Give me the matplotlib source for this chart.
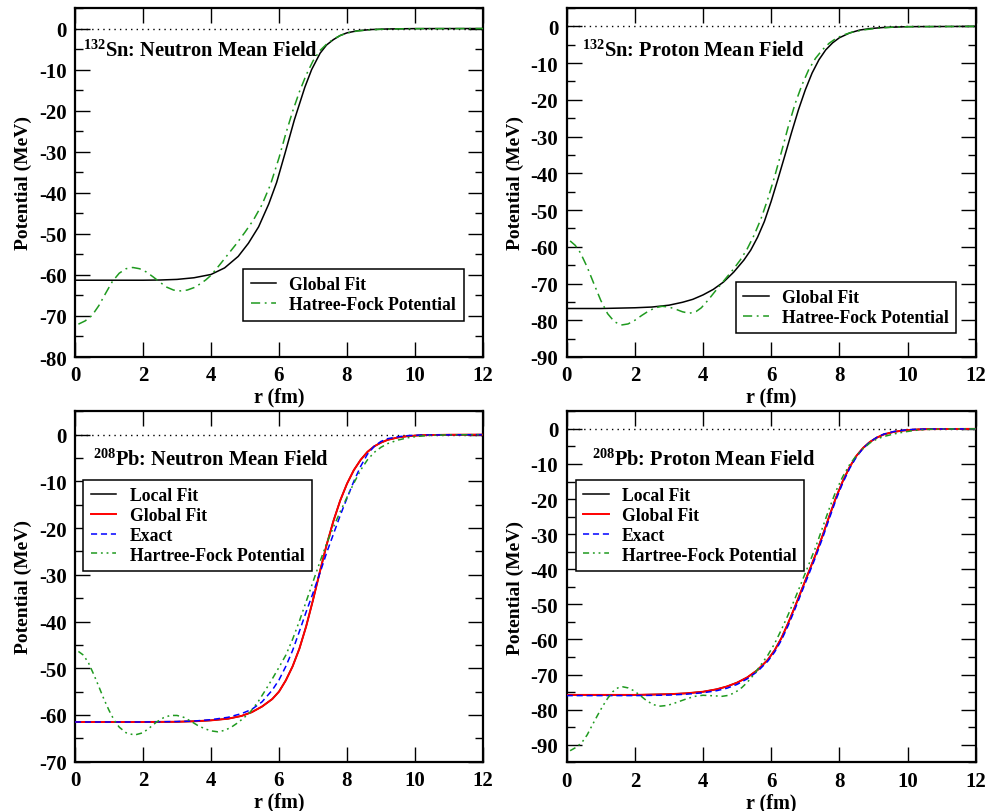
import matplotlib
matplotlib.use('Agg')
import matplotlib.pyplot as plt
from matplotlib.ticker import MultipleLocator

plt.rcParams.update({
    'font.family': 'Liberation Serif',
    'font.weight': 'bold',
    'axes.unicode_minus': False,
    'mathtext.fontset': 'custom',
    'mathtext.rm': 'Liberation Serif',
    'mathtext.it': 'Liberation Serif:italic',
    'mathtext.bf': 'Liberation Serif:bold',
})

# ---------------- data ----------------
# Panel 1: 132Sn neutron
sn_n_fit_r = [0, 1, 2, 2.5, 3, 3.5, 4.0, 4.4, 4.8, 5.1, 5.4, 5.7, 5.93, 6.18, 6.45, 6.76,
              6.96, 7.21, 7.4, 7.6, 7.8, 8.0, 8.3, 8.7, 9.2, 10, 12]
sn_n_fit_v = [-61.3, -61.3, -61.3, -61.25, -61.1, -60.7, -59.9, -58.3, -55.5, -52.3, -48.3,
              -42.7, -37.5, -30.3, -22.3, -14.3, -10.0, -6.0, -4.0, -2.7, -1.7, -1.05, -0.55,
              -0.25, -0.1, -0.02, 0]
sn_n_hf_r = [0.1, 0.3, 0.5, 0.7, 0.9, 1.1, 1.3, 1.5, 1.7, 1.9, 2.1, 2.3, 2.5, 2.7, 2.9, 3.1,
             3.3, 3.5, 3.7, 3.85, 4.0, 4.25, 4.5, 4.75, 5.0, 5.25, 5.5, 5.75, 6.0, 6.2, 6.4,
             6.6, 6.8, 7.0, 7.2, 7.4, 7.6, 7.8, 8.0, 8.3, 8.7, 9.2, 10, 12]
sn_n_hf_v = [-72.0, -71.2, -69.9, -67.5, -64.5, -61.6, -59.6, -58.5, -58.2, -58.5, -59.3,
             -60.5, -61.8, -63.0, -63.7, -63.9, -63.7, -63.1, -62.1, -61.2, -60.1, -57.6,
             -55.0, -52.4, -49.6, -46.6, -42.9, -38.0, -31.5, -25.6, -20.2, -15.4, -11.3,
             -7.9, -5.4, -3.8, -2.6, -1.7, -1.1, -0.6, -0.3, -0.12, -0.03, 0]

# Panel 2: 132Sn proton
sn_p_fit_r = [0, 1, 2, 2.5, 3, 3.4, 3.7, 4.0, 4.3, 4.6, 4.9, 5.2, 5.4, 5.6, 5.8, 6.0, 6.2,
              6.4, 6.6, 6.8, 7.0, 7.2, 7.4, 7.6, 7.8, 8.0, 8.3, 8.6, 8.9, 9.3, 10, 12]
sn_p_fit_v = [-76.8, -76.8, -76.6, -76.4, -75.9, -75.1, -74.3, -73.1, -71.6, -69.6, -66.9,
              -63.6, -60.9, -57.4, -53.1, -47.6, -41.5, -35.2, -28.8, -22.7, -17.3, -12.7,
              -9.1, -6.4, -4.5, -3.1, -1.8, -1.0, -0.6, -0.3, -0.08, 0]
sn_p_hf_r = [0.1, 0.25, 0.4, 0.6, 0.8, 1.0, 1.2, 1.4, 1.6, 1.8, 2.0, 2.2, 2.4, 2.6, 2.8,
             3.0, 3.2, 3.4, 3.6, 3.8, 3.95, 4.15, 4.4, 4.65, 4.9, 5.1, 5.3, 5.5, 5.7, 5.9,
             6.1, 6.3, 6.5, 6.7, 6.9, 7.1, 7.3, 7.5, 7.7, 7.9, 8.1, 8.4, 8.8, 9.2, 9.6, 10,
             12]
sn_p_hf_v = [-58.4, -59.6, -61.6, -65.5, -70.1, -74.6, -78.2, -80.4, -81.3, -81.0, -80.0,
             -78.7, -77.5, -76.6, -76.2, -76.4, -77.0, -77.7, -78.1, -77.6, -76.6, -74.5,
             -71.6, -68.8, -66.0, -63.5, -60.5, -56.8, -52.4, -47.0, -40.9, -34.2, -27.3,
             -21.1, -16.0, -11.8, -8.7, -6.4, -4.6, -3.3, -2.4, -1.5, -0.85, -0.45, -0.2,
             -0.1, 0]

# Panel 3: 208Pb neutron
pb_n_loc_r = [0, 1, 2, 3, 3.5, 4.0, 4.5, 4.9, 5.2, 5.5, 5.8, 6.0, 6.2, 6.4, 6.6, 6.8, 7.0,
              7.2, 7.4, 7.6, 7.8, 8.0, 8.2, 8.4, 8.6, 8.8, 9.0, 9.2, 9.5, 9.8, 10.2, 11, 12]
pb_n_loc_v = [-61.5, -61.5, -61.5, -61.45, -61.35, -61.15, -60.8, -60.2, -59.4, -58.2,
              -56.6, -55.0, -52.6, -49.6, -45.8, -41.0, -35.4, -29.4, -23.6, -18.5, -14.1,
              -10.5, -7.6, -5.4, -3.7, -2.5, -1.7, -1.1, -0.6, -0.3, -0.12, -0.02, 0]
pb_n_glob_r = [0, 1, 2, 3, 3.5, 4.0, 4.5, 4.9, 5.2, 5.5, 5.8, 6.0, 6.2, 6.4, 6.6, 6.8, 7.0,
               7.2, 7.4, 7.6, 7.8, 8.0, 8.2, 8.4, 8.6, 8.8, 9.0, 9.2, 9.5, 9.8, 10.2, 11, 12]
pb_n_glob_v = [-61.5, -61.5, -61.5, -61.45, -61.35, -61.15, -60.8, -60.2, -59.4, -58.2,
               -56.6, -55.0, -52.6, -49.6, -45.8, -41.0, -35.4, -29.4, -23.6, -18.5, -14.1,
               -10.5, -7.6, -5.4, -3.7, -2.5, -1.7, -1.1, -0.6, -0.3, -0.12, -0.02, 0]
pb_n_ex_r = [0, 1, 2, 3, 3.5, 4.0, 4.5, 4.9, 5.2, 5.5, 5.8, 6.0, 6.2, 6.4, 6.6, 6.8, 7.0,
             7.2, 7.4, 7.6, 7.8, 8.0, 8.2, 8.4, 8.6, 8.8, 9.0, 9.2, 9.5, 9.8, 10.2, 12]
pb_n_ex_v = [-61.5, -61.5, -61.5, -61.4, -61.3, -61.0, -60.5, -59.7, -58.8, -57.2, -54.7,
             -52.5, -49.6, -46.2, -42.1, -37.9, -33.9, -29.7, -25.3, -21.3, -17.3, -13.6,
             -10.0, -6.8, -4.2, -2.5, -1.45, -0.85, -0.45, -0.2, -0.08, 0]
pb_n_hf_r = [0.1, 0.25, 0.4, 0.55, 0.7, 0.85, 1.0, 1.15, 1.3, 1.5, 1.75, 2.0, 2.2, 2.4, 2.6,
             2.8, 3.0, 3.2, 3.4, 3.6, 3.8, 4.0, 4.2, 4.4, 4.6, 4.8, 5.0, 5.15, 5.4, 5.6, 5.8,
             6.0, 6.2, 6.4, 6.6, 6.8, 7.0, 7.2, 7.4, 7.6, 7.8, 8.0, 8.2, 8.4, 8.6, 8.8, 9.0,
             9.2, 9.5, 9.8, 10.1, 10.5, 11, 12]
pb_n_hf_v = [-46.4, -47.2, -48.9, -51.3, -53.9, -56.6, -59.0, -61.1, -62.6, -63.8, -64.3,
             -63.8, -62.7, -61.5, -60.6, -60.1, -60.1, -60.5, -61.3, -62.2, -62.9, -63.4,
             -63.6, -63.3, -62.6, -61.6, -60.4, -59.4, -57.0, -54.7, -52.3, -49.8, -47.2,
             -43.8, -39.9, -35.7, -31.5, -27.3, -23.3, -19.8, -16.5, -13.4, -10.4, -7.6,
             -5.4, -3.8, -2.7, -1.9, -1.15, -0.65, -0.35, -0.15, -0.05, 0]

# Panel 4: 208Pb proton
pb_p_loc_r = [0, 1, 2, 3, 3.5, 4.0, 4.4, 4.7, 5.0, 5.3, 5.6, 5.9, 6.1, 6.3, 6.5, 6.7, 6.9,
              7.1, 7.3, 7.5, 7.7, 7.9, 8.1, 8.3, 8.5, 8.7, 8.9, 9.1, 9.3, 9.6, 9.9, 10.2,
              10.6, 12]
pb_p_loc_v = [-75.8, -75.8, -75.8, -75.6, -75.35, -74.9, -74.2, -73.4, -72.3, -70.8, -68.7,
              -65.8, -63.1, -59.6, -55.3, -50.6, -45.7, -40.8, -35.9, -30.6, -25.0, -19.6,
              -14.9, -10.9, -7.7, -5.4, -3.7, -2.5, -1.6, -0.85, -0.45, -0.22, -0.08, 0]
pb_p_glob_r = [0, 1, 2, 3, 3.5, 4.0, 4.4, 4.7, 5.0, 5.3, 5.6, 5.9, 6.1, 6.3, 6.5, 6.7, 6.9,
               7.1, 7.3, 7.5, 7.7, 7.9, 8.1, 8.3, 8.5, 8.7, 8.9, 9.1, 9.3, 9.6, 9.9, 10.2,
               10.6, 12]
pb_p_glob_v = [-75.8, -75.8, -75.8, -75.6, -75.35, -74.9, -74.2, -73.4, -72.3, -70.8, -68.7,
               -65.8, -63.1, -59.6, -55.3, -50.6, -45.7, -40.8, -35.9, -30.6, -25.0, -19.6,
               -14.9, -10.9, -7.7, -5.4, -3.7, -2.5, -1.6, -0.85, -0.45, -0.22, -0.08, 0]
pb_p_ex_r = [0, 1, 2, 3, 3.5, 4.0, 4.4, 4.7, 5.0, 5.3, 5.6, 5.9, 6.1, 6.3, 6.5, 6.7, 6.9,
             7.1, 7.3, 7.5, 7.7, 7.9, 8.1, 8.3, 8.5, 8.7, 8.9, 9.1, 9.3, 9.6, 9.9, 10.2,
             10.6, 12]
pb_p_ex_v = [-76.0, -76.0, -76.0, -75.85, -75.6, -75.2, -74.6, -73.9, -72.8, -71.2, -69.1,
             -66.2, -63.6, -60.2, -56.0, -51.3, -46.4, -41.5, -36.6, -31.3, -25.7, -20.2,
             -15.4, -11.3, -8.0, -5.5, -3.7, -2.4, -1.5, -0.75, -0.35, -0.15, -0.05, 0]
pb_p_hf_r = [0.1, 0.3, 0.45, 0.6, 0.75, 0.9, 1.05, 1.2, 1.35, 1.5, 1.65, 1.8, 1.97, 2.15,
             2.35, 2.55, 2.75, 2.95, 3.15, 3.35, 3.55, 3.77, 4.0, 4.2, 4.4, 4.56, 4.7, 4.85,
             5.0, 5.14, 5.3, 5.5, 5.7, 5.9, 6.1, 6.3, 6.5, 6.7, 6.9, 7.1, 7.3, 7.5, 7.7, 7.9,
             8.1, 8.3, 8.5, 8.7, 8.9, 9.1, 9.3, 9.6, 9.9, 10.2, 10.6, 11, 12]
pb_p_hf_v = [-91.7, -90.6, -89.3, -87.2, -84.4, -81.7, -79.1, -76.8, -74.9, -73.8, -73.5,
             -73.8, -74.6, -75.9, -77.5, -78.6, -79.0, -78.8, -78.2, -77.5, -76.8, -76.2,
             -75.9, -76.0, -76.1, -76.2, -76.0, -75.5, -74.7, -73.7, -72.2, -69.9, -67.2,
             -64.5, -61.2, -57.2, -52.9, -48.3, -43.5, -38.7, -33.8, -28.3, -22.8, -17.7,
             -13.6, -10.2, -7.6, -5.6, -4.0, -2.9, -2.2, -1.45, -0.9, -0.45, -0.15, -0.05, 0]

GREEN = '#1f9a1f'
DASHDOT = (0, (6, 3, 1.2, 3))
DASHDOTDOT = (0, (4, 2.5, 1.2, 2.5, 1.2, 2.5))

fig = plt.figure(figsize=(9.89, 8.12), dpi=100)

W, H = 989.0, 812.0
rects = [
    (75, 9, 483, 358),
    (566.7, 9, 975.7, 358),
    (75, 412.3, 483, 762.7),
    (566.7, 412.3, 975.7, 763.3),
]
axes = []
for (x0, y0, x1, y1) in rects:
    axes.append(fig.add_axes([x0 / W, 1 - y1 / H, (x1 - x0) / W, (y1 - y0) / H]))

ylims = [(-80, 5), (-90, 5), (-70, 5), (-95, 5)]
titles = [r'$^{\mathrm{132}}$Sn: Neutron Mean Field',
          r'$^{\mathrm{132}}$Sn: Proton Mean Field',
          r'$^{\mathrm{208}}$Pb: Neutron Mean Field',
          r'$^{\mathrm{208}}$Pb: Proton Mean Field']
title_pos = [(0.02, 0.862), (0.038, 0.862), (0.043, 0.848), (0.061, 0.849)]

for i, ax in enumerate(axes):
    ax.set_xlim(0, 12)
    ax.set_ylim(*ylims[i])
    ax.axhline(0, color='black', lw=1.0, ls=(0, (1, 3)), zorder=1)
    ax.xaxis.set_major_locator(MultipleLocator(2))
    ax.yaxis.set_major_locator(MultipleLocator(10))
    ax.yaxis.set_minor_locator(MultipleLocator(5))
    ax.tick_params(which='major', direction='in', length=11, width=1.0,
                   top=True, right=True, labelsize=15, pad=6)
    ax.tick_params(which='minor', direction='in', length=6, width=1.0,
                   top=False, bottom=False, left=True, right=True)
    for s in ax.spines.values():
        s.set_linewidth(1.6)
    for lab in ax.get_xticklabels() + ax.get_yticklabels():
        lab.set_fontweight('bold')
    ax.set_xlabel('r (fm)', fontsize=14.5, fontweight='bold', labelpad=1)
    ax.set_ylabel('Potential (MeV)', fontsize=14, fontweight='bold', labelpad=5)
    ax.text(title_pos[i][0], title_pos[i][1], titles[i], transform=ax.transAxes,
            fontsize=14.7, fontweight='bold', ha='left', va='baseline')

leg_kw = dict(frameon=True, fancybox=False, edgecolor='black',
              framealpha=1, borderaxespad=0, handlelength=1.45, handletextpad=0.75,
              labelspacing=0.16, borderpad=0.42, prop={'weight': 'bold', 'size': 12.7})

# Panel 1
ax = axes[0]
ax.plot(sn_n_fit_r, sn_n_fit_v, color='black', lw=1.1, label='Global Fit', zorder=3)
ax.plot(sn_n_hf_r, sn_n_hf_v, color=GREEN, lw=1.1, ls=DASHDOT,
        label='Hatree-Fock Potential', zorder=4)
lg = ax.legend(loc='upper left', bbox_to_anchor=(0.412, 0.252), **leg_kw)
lg.get_frame().set_linewidth(1.1)

# Panel 2
ax = axes[1]
ax.plot(sn_p_fit_r, sn_p_fit_v, color='black', lw=1.1, label='Global Fit', zorder=3)
ax.plot(sn_p_hf_r, sn_p_hf_v, color=GREEN, lw=1.1, ls=DASHDOT,
        label='Hatree-Fock Potential', zorder=4)
lg = ax.legend(loc='upper left', bbox_to_anchor=(0.413, 0.216), **leg_kw)
lg.get_frame().set_linewidth(1.1)

# Panels 3 and 4
for ax, (lr, lv, gr, gv, er, ev, hr, hv), anchor in [
        (axes[2], (pb_n_loc_r, pb_n_loc_v, pb_n_glob_r, pb_n_glob_v, pb_n_ex_r, pb_n_ex_v,
                   pb_n_hf_r, pb_n_hf_v), (0.0204, 0.805)),
        (axes[3], (pb_p_loc_r, pb_p_loc_v, pb_p_glob_r, pb_p_glob_v, pb_p_ex_r, pb_p_ex_v,
                   pb_p_hf_r, pb_p_hf_v), (0.022, 0.805))]:
    ax.plot(lr, lv, color='black', lw=1.1, label='Local Fit', zorder=3)
    ax.plot(gr, gv, color='#ff0000', lw=1.4, label='Global Fit', zorder=4)
    ax.plot(er, ev, color='#0000ff', lw=1.1, ls=(0, (4, 2.5)), label='Exact', zorder=5)
    ax.plot(hr, hv, color=GREEN, lw=1.1, ls=DASHDOTDOT,
            label='Hartree-Fock Potential', zorder=6)
    lg = ax.legend(loc='upper left', bbox_to_anchor=anchor, **leg_kw)
    lg.get_frame().set_linewidth(1.1)

fig.savefig('out.png', dpi=100)
